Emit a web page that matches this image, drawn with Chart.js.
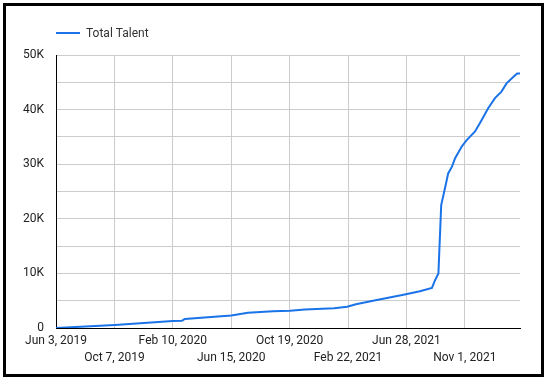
<!DOCTYPE html>
<html>
<head>
<meta charset="utf-8">
<script src="https://cdn.jsdelivr.net/npm/chart.js@4"></script>
<style>
    html, body { margin: 0; padding: 0; background: #fff; }
    #wrap { position: relative; width: 546px; height: 379px; }
    #frame {
        position: absolute; left: 3px; top: 3px; width: 541px; height: 374px;
        box-sizing: border-box; border: 3px solid #000; pointer-events: none;
    }
</style>
</head>
<body>
<div id="wrap">
    <canvas id="talentChart" width="546" height="379"></canvas>
    <div id="frame"></div>
</div>
<script>
// days since Jun 3, 2019
const days = [0, 127, 252, 272, 278, 378, 414, 468, 505, 537, 600, 628, 647, 684, 755, 785, 811, 818, 825,
    831, 836, 843, 846, 854, 861, 875, 886, 904, 915, 932, 947, 961, 972, 987, 995, 1001];
const talent = [0, 550, 1280, 1340, 1650, 2290, 2800, 3060, 3150, 3390, 3600, 3900, 4340, 5000, 6170, 6720, 7350, 8800, 10000,
    22500, 24400, 27100, 28300, 29500, 31100, 33200, 34400, 36000, 37600, 40200, 42100, 43300, 44800, 46000, 46600, 46600];

const tickDays = [0, 126, 252, 378, 504, 630, 756, 882];
const tickLabels = ['Jun 3, 2019', 'Oct 7, 2019', 'Feb 10, 2020', 'Jun 15, 2020',
    'Oct 19, 2020', 'Feb 22, 2021', 'Jun 28, 2021', 'Nov 1, 2021'];

const blue = '#1a73e8';
const font = {family: 'Roboto', size: 12};

// legend drawn by hand so it lines up with the plot's left edge
const legendLine = {
    id: 'legendLine',
    afterDraw(chart) {
        const ctx = chart.ctx;
        const ds = chart.data.datasets[0];
        const x = chart.chartArea.left, y = 33;
        ctx.save();
        ctx.strokeStyle = ds.borderColor;
        ctx.lineWidth = 2;
        ctx.beginPath();
        ctx.moveTo(x, y);
        ctx.lineTo(x + 24, y);
        ctx.stroke();
        ctx.fillStyle = '#333';
        ctx.font = '12px Roboto';
        ctx.textBaseline = 'middle';
        ctx.fillText(ds.label, x + 30, y + 1);
        ctx.restore();
    }
};

new Chart(document.getElementById('talentChart'), {
    type: 'line',
    data: {
        datasets: [{
            label: 'Total Talent',
            data: days.map((d, i) => ({x: d, y: talent[i]})),
            borderColor: blue,
            backgroundColor: blue,
            borderWidth: 2,
            pointRadius: 0,
            tension: 0,
            fill: false
        }]
    },
    options: {
        responsive: false,
        animation: false,
        layout: {padding: {left: 0, right: 26, top: 55, bottom: 0}},
        plugins: {legend: {display: false}, tooltip: {enabled: false}},
        scales: {
            x: {
                type: 'linear',
                min: 0,
                max: 1001,
                afterBuildTicks: (scale) => { scale.ticks = tickDays.map(v => ({value: v})); },
                afterFit: (scale) => { scale.height = 51; },
                grid: {color: '#cccccc', drawTicks: false},
                border: {color: '#000', width: 1},
                ticks: {
                    autoSkip: false,
                    maxRotation: 0,
                    padding: 5,
                    color: '#222',
                    font: {family: 'Roboto', size: 12, lineHeight: 1.4},
                    callback: (v) => {
                        const i = tickDays.indexOf(v);
                        if (i < 0) return '';
                        return i % 2 === 0 ? tickLabels[i] : ['', tickLabels[i]];
                    }
                }
            },
            y: {
                min: 0,
                max: 50000,
                afterFit: (scale) => { scale.width = 56; },
                grid: {color: '#cccccc', drawTicks: false},
                border: {color: '#000', width: 1},
                ticks: {
                    stepSize: 5000,
                    padding: 12,
                    color: '#222',
                    font: font,
                    callback: (v) => v % 10000 === 0 ? (v === 0 ? '0' : v / 1000 + 'K') : ''
                }
            }
        }
    },
    plugins: [legendLine]
});
</script>
</body>
</html>
